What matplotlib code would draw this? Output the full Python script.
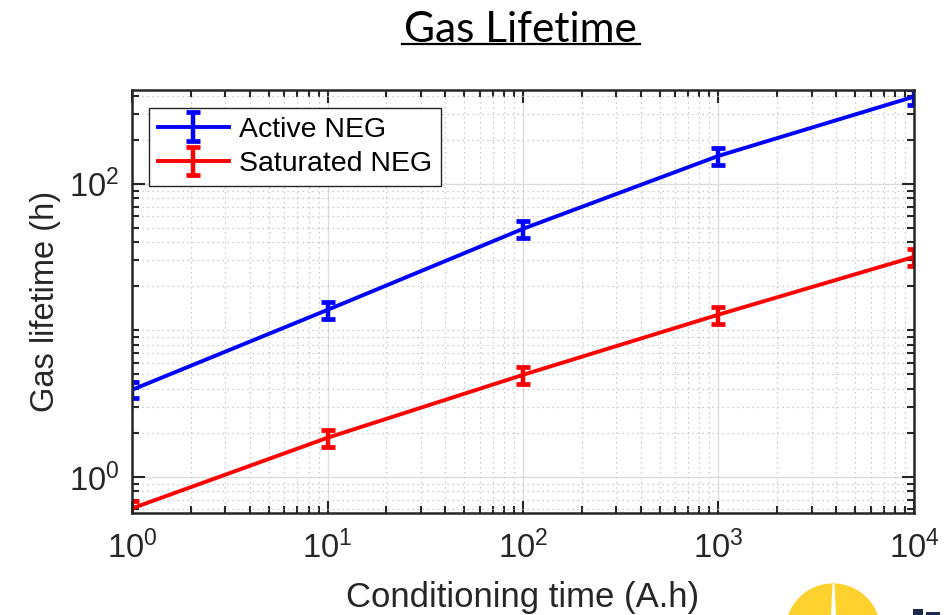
import numpy as np
import matplotlib
matplotlib.use("Agg")
import matplotlib.pyplot as plt
from matplotlib.ticker import FixedLocator, LogLocator, NullFormatter, LogFormatterSciNotation
from matplotlib.patches import Circle, Polygon, Rectangle

# Data
cond_time = [1, 10, 100, 1000, 10000]
active_neg = [3.93, 13.8, 49.3, 155, 393]
active_err = [0.5, 1.8, 6.4, 20, 50]
saturated_neg = [0.61, 1.85, 4.97, 12.8, 31.7]
saturated_err = [0.08, 0.24, 0.65, 1.7, 4.2]
series_labels = ["Active NEG", "Saturated NEG"]
x_ticks = [1, 10, 100, 1000, 10000]
y_ticks = [1, 100]

plt.rcParams['font.family'] = ['Liberation Sans', 'DejaVu Sans']
plt.rcParams['mathtext.fontset'] = 'custom'
plt.rcParams['mathtext.rm'] = 'Liberation Sans'
plt.rcParams['mathtext.it'] = 'Liberation Sans:italic'
plt.rcParams['mathtext.bf'] = 'Liberation Sans:bold'
dark = '#262626'

fig = plt.figure(figsize=(9.5, 6.15), dpi=100)
ax = fig.add_axes([0.139, 0.166, 0.823, 0.688])

ekw = dict(lw=2.8, elinewidth=3.2, capsize=5, capthick=3.4)
ax.errorbar(cond_time, active_neg, yerr=active_err, color='#0000ff', label=series_labels[0], **ekw)
ax.errorbar(cond_time, saturated_neg, yerr=saturated_err, color='#ff0000', label=series_labels[1], **ekw)

ax.set_xscale('log')
ax.set_yscale('log')
ax.set_xlim(1, 1e4)
ax.set_ylim(0.568, 438)

ax.xaxis.set_major_locator(FixedLocator(x_ticks))
ax.yaxis.set_major_locator(FixedLocator(y_ticks))
ax.xaxis.set_minor_locator(LogLocator(base=10, subs=np.arange(1, 10), numticks=50))
ax.yaxis.set_minor_locator(LogLocator(base=10, subs=np.arange(1, 10), numticks=50))
ax.xaxis.set_major_formatter(LogFormatterSciNotation())
ax.yaxis.set_major_formatter(LogFormatterSciNotation())
ax.xaxis.set_minor_formatter(NullFormatter())
ax.yaxis.set_minor_formatter(NullFormatter())

ax.grid(True, which='major', color='#dcdcdc', lw=1.0, ls='-')
ax.grid(True, which='minor', color='#bdbdbd', lw=0.9, ls=(0, (1, 3)))
ax.set_axisbelow(True)

for s in ax.spines.values():
    s.set_color(dark)
    s.set_linewidth(1.8)
ax.tick_params(which='both', direction='in', top=True, right=True, colors=dark,
               labelcolor=dark, width=1.5)
ax.tick_params(which='major', length=9, labelsize=23.5)
ax.tick_params(axis='x', which='major', pad=13)
ax.tick_params(axis='y', which='major', pad=9)
ax.tick_params(which='minor', length=5)

ax.set_xlabel('Conditioning time (A.h)', fontsize=25, color=dark, labelpad=11)
ax.set_ylabel('Gas lifetime (h)', fontsize=23.5, color=dark, labelpad=6)

leg = ax.legend(loc='upper left', fontsize=20.5, frameon=True, fancybox=False,
                edgecolor=dark, framealpha=1, borderpad=0.3, handlelength=2.5,
                labelspacing=0.3, bbox_to_anchor=(0.022, 0.957), borderaxespad=0.0,
                handletextpad=0.35)
leg.get_frame().set_linewidth(1.0)

fig.text(0.548, 0.952, 'Gas Lifetime', fontsize=30.5, ha='center', va='center',
         family=['Lato', 'DejaVu Sans'], color='black')
# underline
fig.add_artist(plt.Line2D([0.423, 0.674], [0.928, 0.928], color='black', lw=1.6,
                          transform=fig.transFigure))

# partial logo at bottom right (in inches from bottom-left)
fig.add_artist(Circle((8.33, -0.16), 0.476, transform=fig.dpi_scale_trans,
                      facecolor='#fdd22f', edgecolor='none', clip_on=False))
fig.add_artist(Polygon([(8.325, 0.31), (8.345, 0.31), (8.36, 0.0), (8.31, 0.0)],
                       closed=True, transform=fig.dpi_scale_trans,
                       facecolor='white', edgecolor='none'))
fig.add_artist(Rectangle((9.13, 0.0), 0.10, 0.06, transform=fig.dpi_scale_trans,
                         facecolor='#1d2a4d', edgecolor='none'))
fig.add_artist(Rectangle((9.26, 0.0), 0.14, 0.03, transform=fig.dpi_scale_trans,
                         facecolor='#1d2a4d', edgecolor='none'))

fig.savefig('out.png', dpi=100)
